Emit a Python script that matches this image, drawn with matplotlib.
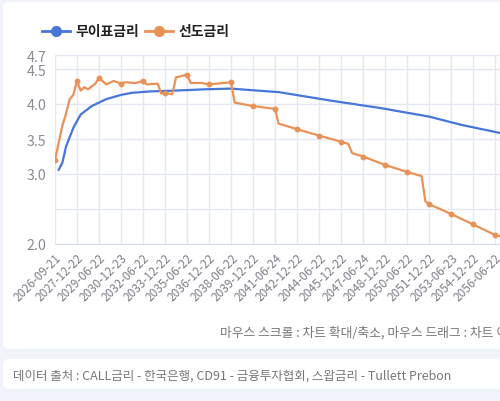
import matplotlib
matplotlib.use("Agg")
import matplotlib.pyplot as plt
from matplotlib.patches import FancyBboxPatch
from matplotlib.lines import Line2D

plt.rcParams['font.family'] = ['Noto Sans CJK KR', 'DejaVu Sans']

# category axis: one label every 6 points
tick_labels = [
    "2026-09-21", "2027-12-22", "2029-06-22", "2030-12-23", "2032-06-22",
    "2033-12-22", "2035-06-22", "2036-12-22", "2038-06-22", "2039-12-22",
    "2041-06-24", "2042-12-22", "2044-06-22", "2045-12-22", "2047-06-24",
    "2048-12-22", "2050-06-22", "2051-12-22", "2053-06-23", "2054-12-22",
    "2056-06-22",
]
label_step = 6

# 무이표금리 (zero rate): category index, value
zero_idx = [1, 2, 3, 5, 7, 10, 14, 18, 21, 26, 32, 41, 48, 53, 61, 75, 89, 102, 111, 121, 126]
zero_val = [3.06, 3.16, 3.39, 3.66, 3.85, 3.97, 4.07, 4.13, 4.16, 4.18, 4.19, 4.21, 4.22,
            4.20, 4.17, 4.05, 3.94, 3.82, 3.70, 3.59, 3.53]

# 선도금리 (forward rate)
fwd_idx = [0, 2, 3, 4, 5, 6, 7, 8, 9, 11, 12, 14, 16, 18, 19, 22, 24, 25, 28, 29, 30, 32,
           33, 36, 37, 40, 42, 48, 49, 54, 60, 61, 66, 72, 78, 80, 81, 84, 90, 96, 100,
           101, 102, 108, 114, 120, 126]
fwd_val = [3.20, 3.69, 3.86, 4.07, 4.13, 4.33, 4.19, 4.24, 4.21, 4.29, 4.37, 4.28, 4.33,
           4.29, 4.31, 4.30, 4.33, 4.28, 4.29, 4.15, 4.16, 4.14, 4.38, 4.42, 4.30, 4.30,
           4.28, 4.31, 4.02, 3.97, 3.93, 3.72, 3.64, 3.55, 3.46, 3.43, 3.30, 3.25, 3.13,
           3.03, 2.97, 2.61, 2.57, 2.43, 2.28, 2.13, 2.04]

blue = "#4676d7"
orange = "#e99257"
grid_c = "#e4e8f4"

W, H = 500, 402


def px(x, y):
    return x / W, 1 - y / H


fig = plt.figure(figsize=(5, 4.02), dpi=100)
fig.patch.set_facecolor("#f0f3fa")

# white cards
x0, y0 = px(3, 350)
fig.add_artist(FancyBboxPatch((x0, y0), 1.1, 347 / H, transform=fig.transFigure,
                              boxstyle="round,pad=0,rounding_size=0.012",
                              facecolor="white", edgecolor="none", zorder=0))
x1, y1 = px(3, 390)
fig.add_artist(FancyBboxPatch((x1, y1), 1.1, 30 / H, transform=fig.transFigure,
                              boxstyle="round,pad=0,rounding_size=0.012",
                              facecolor="white", edgecolor="none", zorder=0))

left, bottom = px(55, 245)
_, top = px(0, 56)
ax = fig.add_axes([left, bottom, 1 - left, top - bottom])
ax.set_facecolor("none")

ax.plot(zero_idx, zero_val, color=blue, lw=1.6, zorder=3)
ax.plot(fwd_idx, fwd_val, color=orange, lw=1.6, zorder=4)
mk_idx = [i for i in fwd_idx if i % label_step == 0]
mk_val = [v for i, v in zip(fwd_idx, fwd_val) if i % label_step == 0]
ax.plot(mk_idx, mk_val, "o", color=orange, ms=3.2, zorder=5)

ax.set_xlim(0, (W - 55) / (22 / label_step))
ax.set_ylim(2.0, 4.7)

xt = list(range(0, len(tick_labels) * label_step, label_step))
ax.set_xticks(xt)
ax.set_xticklabels(tick_labels, rotation=45, ha="right", rotation_mode="anchor",
                   fontsize=8.5, color="#7c7f88")
yt = [2.0, 2.5, 3.0, 3.5, 4.0, 4.5, 4.7]
ax.set_yticks(yt)
ax.set_yticklabels(["2.0", "", "3.0", "3.5", "4.0", "4.5", "4.7"], fontsize=10.3, color="#8a8d96")
ax.tick_params(length=0, pad=6)
ax.tick_params(axis="x", pad=5)
ax.grid(True, color=grid_c, lw=1)
for s in ["top", "right", "left"]:
    ax.spines[s].set_visible(False)
ax.spines["bottom"].set_color("#d6dbe8")

# legend
ly = px(0, 32)[1]
fig.add_artist(Line2D([42 / W, 70 / W], [ly, ly], color=blue, lw=2, transform=fig.transFigure))
fig.add_artist(Line2D([56 / W], [ly], color=blue, marker="o", ms=7, transform=fig.transFigure))
fig.text(75 / W, ly, "무이표금리", fontsize=10, fontweight="bold", color="#222222", va="center")
fig.add_artist(Line2D([145 / W, 173 / W], [ly, ly], color=orange, lw=2, transform=fig.transFigure))
fig.add_artist(Line2D([159 / W], [ly], color=orange, marker="o", ms=7, transform=fig.transFigure))
fig.text(179 / W, ly, "선도금리", fontsize=10, fontweight="bold", color="#222222", va="center")

fig.text(*px(220, 333), "마우스 스크롤 : 차트 확대/축소, 마우스 드래그 : 차트 이동",
         fontsize=9.2, color="#777777", va="center")
fig.text(*px(13, 376), "데이터 출처 : CALL금리 - 한국은행, CD91 - 금융투자협회, 스왑금리 - Tullett Prebon",
         fontsize=9, color="#777777", va="center")

fig.savefig("out.png", dpi=100, facecolor=fig.get_facecolor())
